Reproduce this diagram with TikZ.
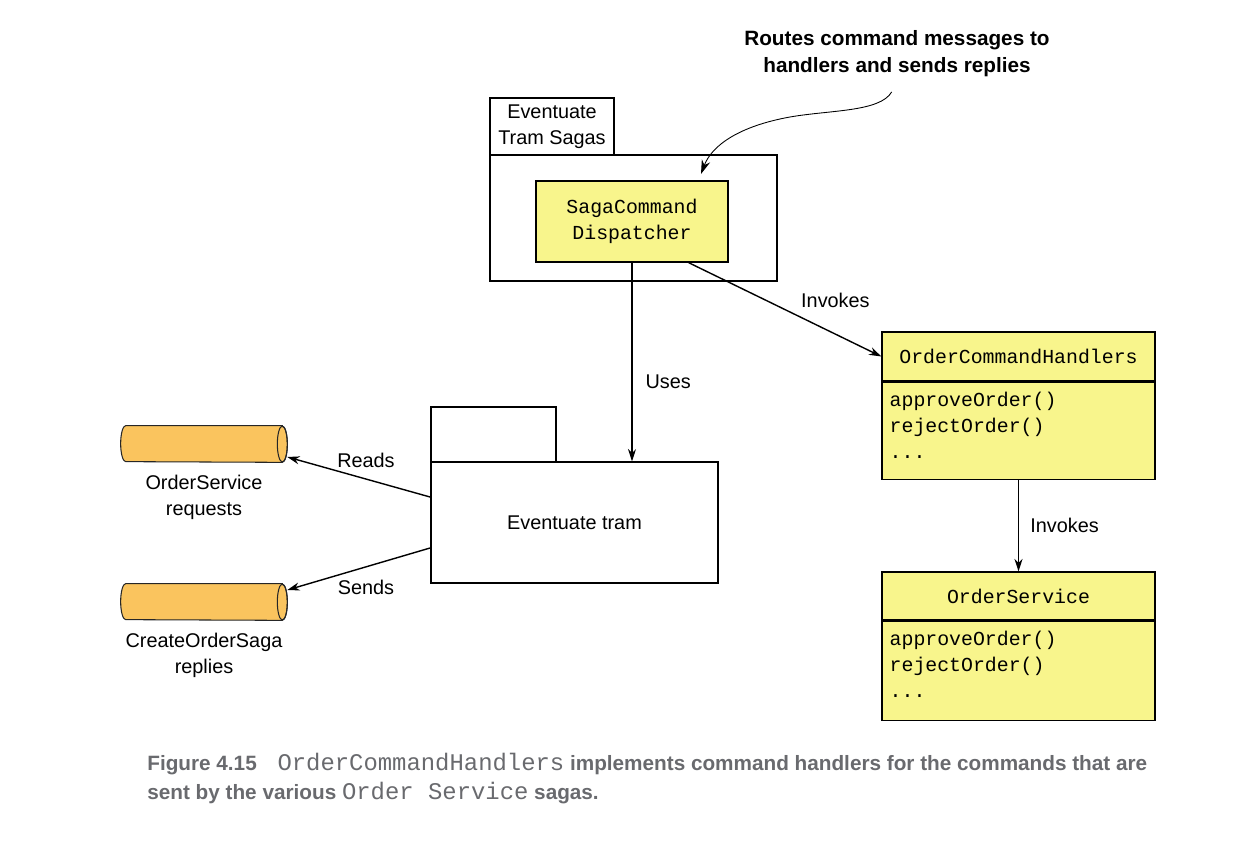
\documentclass[tikz,border=0pt]{standalone}
\usepackage{fontspec}
\setmainfont{Liberation Sans}
\setmonofont{Liberation Mono}
\usetikzlibrary{arrows.meta, positioning}

\definecolor{clsyellow}{RGB}{248,245,140}
\definecolor{queueorange}{RGB}{250,196,94}
\definecolor{capgray}{RGB}{105,106,110}
\newcommand\codefont{\fontsize{11.3}{14.7}\selectfont\ttfamily}
\newcommand\notefont{\fontsize{11.8}{15.3}\selectfont\bfseries}
\newcommand\capfont{\fontsize{11.8}{16.4}\selectfont\bfseries}
\newcommand\capcode{\fontsize{13.6}{16.4}\selectfont\mdseries\ttfamily}

\begin{document}
\begin{tikzpicture}[x=0.02cm, y=-0.02cm, font=\fontsize{11.3}{14.7}\selectfont,
  pkg/.style={draw, line width=0.8pt, fill=white, inner sep=0pt},
  cls/.style={draw, line width=0.8pt, fill=clsyellow, inner sep=0pt},
  ops/.style={anchor=north west, align=left, font=\codefont, inner sep=0pt},
  queue/.style={minimum width=3.32cm, minimum height=0.72cm, inner sep=0pt},
  conn/.style={-{Stealth[length=7pt, width=4.6pt]}, line width=0.8pt}]

\useasboundingbox (0,0) rectangle (1249,861);

% Eventuate Tram Sagas package
\node[pkg, minimum width=2.48cm, minimum height=1.14cm, align=center] (sagastab) at (552,126.5) {Eventuate\\Tram Sagas};
\node[pkg, minimum width=5.74cm, minimum height=2.52cm] (sagas) at (633.5,218) {};
\node[cls, minimum width=3.84cm, minimum height=1.62cm, font=\codefont, align=center] (disp) at (632,221.5) {SagaCommand\\Dispatcher};

% Eventuate tram package
\node[pkg, minimum width=2.5cm, minimum height=1.1cm] (tramtab) at (493.5,434.5) {};
\node[pkg, minimum width=5.74cm, minimum height=2.42cm] (tram) at (574.5,522.5) {Eventuate tram};

% message channels
\node[queue] (reqq) at (204,444) {};
\node[align=center] (reqlabel) at (204,497) {OrderService\\requests};
\node[queue] (repq) at (204,602) {};
\node[align=center] (replabel) at (204,655) {CreateOrderSaga\\replies};
\foreach \q in {reqq, repq} {
  \draw[line width=0.6pt, draw=black!85, fill=queueorange]
    ([xshift=-0.1cm]\q.north east) -- ([xshift=0.1cm]\q.north west)
    arc[start angle=90, end angle=270, x radius=0.1cm, y radius=0.36cm]
    -- ([xshift=-0.1cm]\q.south east)
    arc[start angle=-90, end angle=90, x radius=0.1cm, y radius=0.36cm] -- cycle;
  \draw[line width=0.6pt, draw=black!85] ([xshift=-0.1cm]\q.east) ellipse[x radius=0.1cm, y radius=0.36cm];
}

% classes
\node[cls, minimum width=5.46cm, minimum height=0.98cm, font=\codefont] (ochhead) at (1018.5,356.5) {OrderCommandHandlers};
\node[cls, minimum width=5.46cm, minimum height=1.94cm, below=0pt of ochhead] (ochbody) {};
\node[ops] (ochops) at ([xshift=0.16cm, yshift=-0.2cm]ochbody.north west) {approveOrder()\\rejectOrder()\\...};
\node[cls, minimum width=5.46cm, minimum height=0.96cm, font=\codefont] (oshead) at (1018.5,596) {OrderService};
\node[cls, minimum width=5.46cm, minimum height=1.98cm, below=0pt of oshead] (osbody) {};
\node[ops] (osops) at ([xshift=0.16cm, yshift=-0.2cm]osbody.north west) {approveOrder()\\rejectOrder()\\...};

% connectors
\draw[conn] (disp.south) -- node[pos=0.6, right=4pt] {Uses} (disp.south |- tram.north);
\draw[conn] (disp.-36) -- node[pos=0.55, above right] {Invokes} (ochhead.west);
\draw[conn] (ochbody.south) -- node[right=3pt] {Invokes} (oshead.north);
\draw[conn] (tram.170) -- node[pos=0.45, above=3pt] {Reads} ([yshift=-0.26cm]reqq.east);
\draw[conn] (tram.190) -- node[pos=0.45, below=4pt] {Sends} ([yshift=0.24cm]repq.east);

% annotation
\node[font=\notefont, align=center] (note) at (897,53.5) {Routes command messages to\\handlers and sends replies};
\coordinate (notetip) at (701,174);
\draw[-{Stealth[length=8pt, width=5pt]}, line width=0.5pt, shorten <=6pt] (note.south)
  .. controls (880,112) and (830,110) .. (790,117)
  .. controls (740,126) and (712,145) .. (notetip);

% caption
\node[anchor=north west, align=left, text=capgray, font=\capfont, inner sep=0pt] (caption) at (147,753)
  {Figure 4.15\hspace{1em}{\capcode OrderCommandHandlers} implements command handlers for the commands that are\\
   sent by the various {\capcode Order Service} sagas.};

\end{tikzpicture}
\end{document}
